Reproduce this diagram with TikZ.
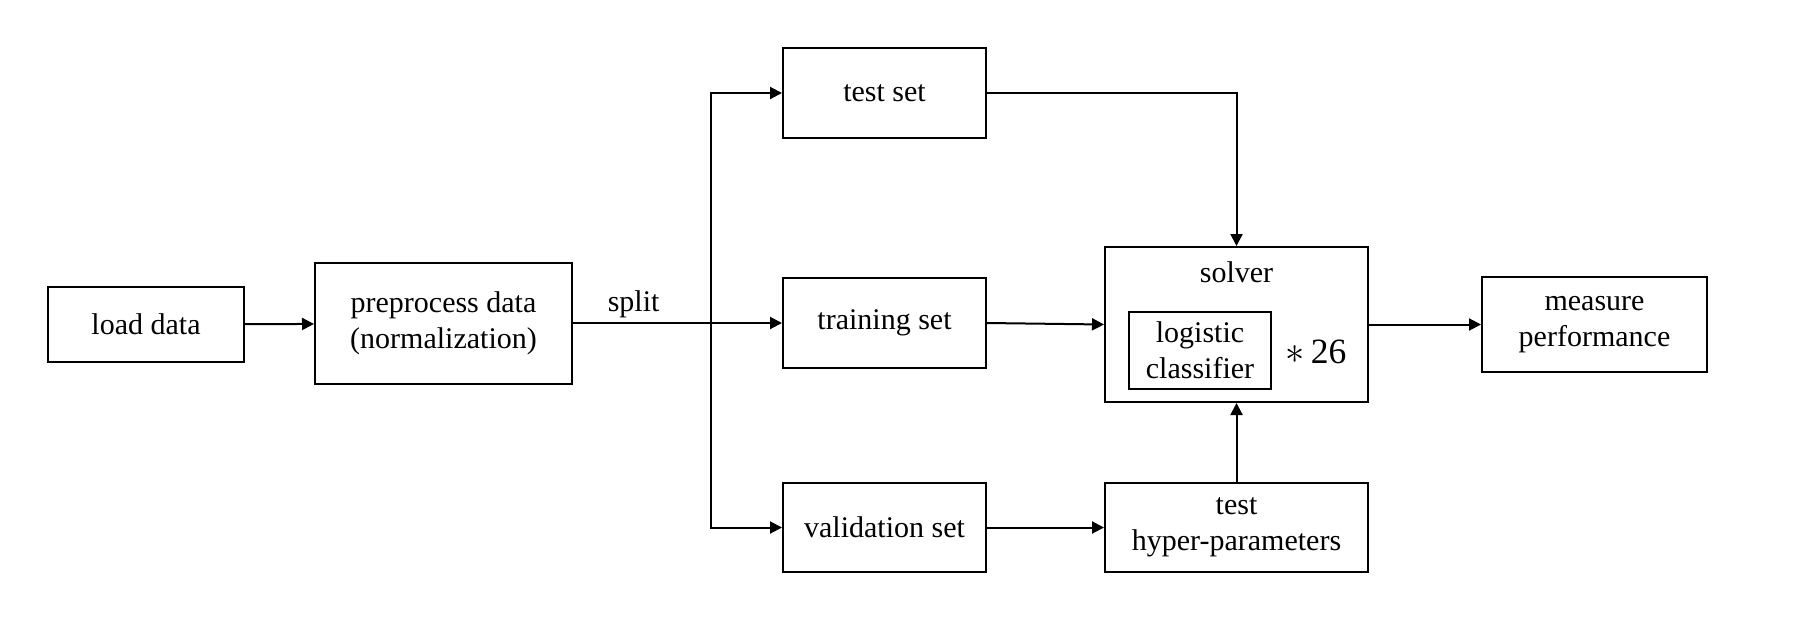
\documentclass[tikz,border=0pt]{standalone}
\usepackage{fontspec}
\setmainfont{Liberation Serif}
\usetikzlibrary{arrows.meta}
\def\unitpx{0.45pt}
\tikzset{
  box/.style={draw, line width=0.9pt, align=center, inner sep=0pt,
    font=\fontsize{13.5}{16}\selectfont},
  plain/.style={inner sep=0pt, font=\fontsize{13.5}{16}\selectfont},
  link/.style={-{Triangle[length=5.4pt,width=5.4pt]}, line width=0.9pt},
}

\begin{document}
\begin{tikzpicture}[x=\unitpx, y=-\unitpx]
\useasboundingbox (0,0) rectangle (1808,618);

% boxes
\node[box, minimum width=196*\unitpx, minimum height=75*\unitpx] (load) at (146,324.5) {load data};
\node[box, minimum width=257*\unitpx, minimum height=121*\unitpx] (prep) at (443.5,323.5) {preprocess data\\(normalization)};
\node[box, minimum width=203*\unitpx, minimum height=90*\unitpx] (test) at (884.5,93) {test set};
\node[box, minimum width=203*\unitpx, minimum height=90*\unitpx] (train) at (884.5,323) {training set};
\node[box, minimum width=203*\unitpx, minimum height=89*\unitpx] (valid) at (884.5,527.5) {validation set};
\node[box, minimum width=263*\unitpx, minimum height=155*\unitpx] (solver) at (1236.5,324.5) {};
\node[plain] (solverlbl) at (1236.5,272) {solver};
\node[box, minimum width=142*\unitpx, minimum height=77*\unitpx] (logit) at (1200,350.5) {logistic\\classifier};
\node[plain, font=\fontsize{16}{18}\selectfont] (times) at (1316,352) {$*$\,26};
\node[box, minimum width=263*\unitpx, minimum height=89*\unitpx] (hyper) at (1236.5,527.5) {test\\hyper-parameters};
\node[box, minimum width=225*\unitpx, minimum height=95*\unitpx] (measure) at (1594.5,324.5) {measure\\performance};

% connectors
\coordinate (split) at (711,323);
\draw[link] (load) -- (prep);
\draw[link] (prep.east |- train.west) -- node[plain, above=2pt, pos=0.29] (splitlbl) {split} (train.west);
\draw[link] (split) |- (test.west);
\draw[link] (split) |- (valid.west);
\draw[link] (test.east) -| (solver.north);
\draw[link] (train.east) -- (solver.west);
\draw[link] (valid.east) -- (hyper.west);
\draw[link] (hyper.north) -- (solver.south);
\draw[link] (solver.east) -- (measure.west);
\end{tikzpicture}
\end{document}
